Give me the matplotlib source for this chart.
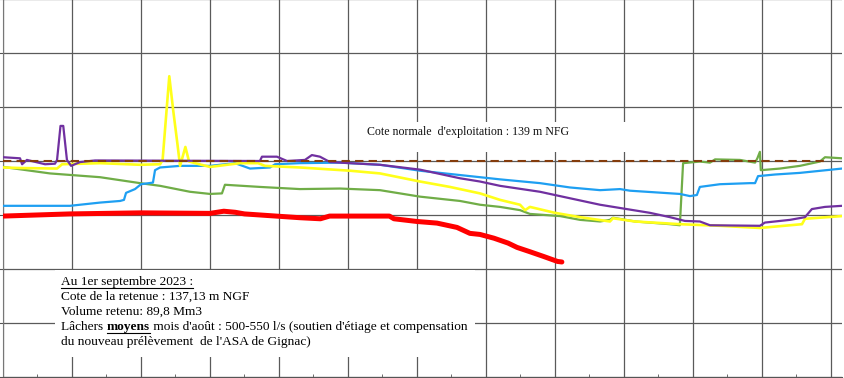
import matplotlib
matplotlib.use("Agg")
import matplotlib.pyplot as plt
from matplotlib.patches import Rectangle
from matplotlib.lines import Line2D

W, H = 844, 378

# ---------------- data (day of year, level m NGF) ----------------
red_days = [0, 29, 60, 90, 96, 101, 105, 129, 138, 142, 168, 170, 180, 188.7,
            197.4, 203, 207.4, 213.5, 219.6, 223.5, 229.1, 235.2, 241.1, 243]
red_vals = [137.98, 138.02, 138.04, 138.03, 138.07, 138.05, 138.02, 137.95, 137.93,
            137.98, 137.98, 137.93, 137.88, 137.85, 137.77, 137.66, 137.64, 137.57,
            137.48, 137.40, 137.32, 137.23, 137.14, 137.13]

purple_days = [0, 7.4, 8.3, 10.4, 18.3, 22.6, 23.5, 25.0, 26.2, 27.8, 29.6, 33.5, 40,
               111.7, 112.6, 119.1, 123.5, 131.3, 134.3, 137.8, 142.2, 163.9, 181.3,
               198.7, 207.4, 216.1, 233.5, 246.5, 259.6, 272.6, 281.3, 290, 296.5,
               303, 307.4, 329.1, 331.3, 342.2, 348.7, 351.7, 357.4, 364.8]
purple_vals = [139.07, 139.05, 138.94, 139.02, 138.94, 138.95, 139.02, 139.65, 139.65,
               139.02, 138.91, 138.98, 139.01, 139.00, 139.08, 139.08, 139.00, 139.02,
               139.11, 139.08, 138.98, 138.93, 138.84, 138.68, 138.62, 138.54, 138.43,
               138.31, 138.19, 138.10, 138.04, 137.96, 137.89, 137.88, 137.81, 137.80,
               137.86, 137.91, 137.96, 138.11, 138.15, 138.17]

yellow_days = [0, 7.4, 23.5, 25.7, 42.2, 59.6, 68.3, 69.4, 72.3, 74, 75.8, 77, 79.3,
               80.9, 83.5, 90, 103, 110.9, 113.9, 129.1, 150.9, 163.9, 181.3, 194.3,
               207.4, 216.1, 224.8, 227, 229.1, 240, 250.9, 263.9, 265.2, 274.8, 294.3,
               311.7, 329.1, 342.2, 347.4, 348.7, 364.8]
yellow_vals = [138.88, 138.87, 138.86, 138.94, 138.96, 138.93, 138.94, 139.02, 140.57,
               139.94, 139.33, 138.91, 139.26, 138.99, 138.96, 138.89, 138.96, 138.96,
               138.91, 138.88, 138.82, 138.77, 138.62, 138.52, 138.40, 138.28, 138.19,
               138.09, 138.15, 138.04, 137.96, 137.88, 137.94, 137.88, 137.83, 137.80,
               137.76, 137.81, 137.83, 137.93, 137.98]

blue_days = [0, 11.7, 29.1, 42.2, 50.9, 52.6, 53.5, 57.4, 60, 65.2, 66.1, 68.3, 77, 90,
             100.9, 107.4, 116.1, 118.3, 129.1, 146.5, 163.9, 181.3, 198.7, 216.1,
             233.5, 246.5, 259.6, 268.3, 272.6, 294.3, 298.7, 301.7, 303, 311.7, 324.8,
             327, 328.3, 335.7, 346.5, 364.8]
blue_vals = [138.17, 138.17, 138.17, 138.23, 138.26, 138.28, 138.41, 138.48, 138.57,
             138.60, 138.83, 138.88, 138.91, 138.91, 138.96, 138.86, 138.88, 138.94,
             138.96, 138.97, 138.93, 138.82, 138.74, 138.66, 138.59, 138.51, 138.46,
             138.48, 138.45, 138.39, 138.35, 138.37, 138.52, 138.57, 138.59, 138.59,
             138.72, 138.75, 138.78, 138.86]

green_days = [0, 20.4, 42.2, 59.6, 68.3, 81.3, 90, 95.2, 96.5, 111.7, 129.1, 146.5,
              163.9, 181.3, 198.7, 207.4, 216.1, 224.8, 229.1, 242.2, 250.9, 259.6,
              263.9, 265.2, 274.8, 290, 294.3, 295.7, 303, 307.4, 309.6, 320.4, 327,
              328, 329.1, 329.5, 337.8, 346.5, 355.2, 357.4, 364.8]
green_vals = [138.89, 138.77, 138.70, 138.59, 138.54, 138.43, 138.39, 138.40, 138.56,
              138.52, 138.48, 138.49, 138.46, 138.34, 138.26, 138.19, 138.15, 138.09,
              138.02, 137.98, 137.91, 137.88, 137.91, 137.95, 137.88, 137.83, 137.81,
              138.96, 138.99, 138.97, 139.03, 139.02, 138.97, 139.05, 139.17, 138.83,
              138.86, 138.91, 138.99, 139.07, 139.05]

ref_days = [0, 358]
ref_vals = [139, 139]

x_ticks = list(range(0, 361, 30))
x_minor = list(range(15, 361, 30))
y_ticks = [135, 136, 137, 138, 139, 140, 141, 142]

note_ref = "Cote normale  d'exploitation : 139 m NFG"
note_title = "Au 1er septembre 2023 :"
note_l2 = "Cote de la retenue : 137,13 m NGF"
note_l3 = "Volume retenu: 89,8 Mm3"
note_l4a = "Lâchers "
note_l4b = "moyens"
note_l4c = " mois d'août : 500-550 l/s (soutien d'étiage et compensation"
note_l5 = "du nouveau prélèvement  de l'ASA de Gignac)"

# ---------------- figure ----------------
fig = plt.figure(figsize=(W / 100, H / 100), dpi=100)
fig.patch.set_facecolor("white")

def fx(px):
    return px / W

def fy(py):
    return 1 - py / H

ax = fig.add_axes([fx(3), fy(377), fx(842) - fx(3), fy(-1) - fy(377)])
ax.set_xticks(x_ticks)
ax.set_xticks(x_minor, minor=True)
ax.set_yticks(y_ticks)
ax.set_xticklabels([])
ax.set_yticklabels([])
ax.grid(True, which="major", color="#5a5a5a", linewidth=0.9)
ax.tick_params(axis="x", which="major", length=0)
ax.tick_params(axis="x", which="minor", direction="inout", length=5, color="#555555")
ax.tick_params(axis="y", which="major", direction="out", length=4, color="#555555")
for s in ["top", "right"]:
    ax.spines[s].set_visible(False)
ax.spines["left"].set_color("#777777")
ax.spines["bottom"].set_color("#555555")

ax.plot(green_days, green_vals, color="#70AD47", lw=1.6, zorder=3)
ax.plot(blue_days, blue_vals, color="#1E9FF2", lw=1.6, zorder=3)
ax.plot(yellow_days, yellow_vals, color="#FFFF1A", lw=1.9, zorder=4)
ax.plot(purple_days, purple_vals, color="#7030A0", lw=1.6, zorder=5)
ax.plot(ref_days, ref_vals, color="#843C0C", lw=1.5, dashes=[4, 2.5], zorder=6)
ax.plot(red_days, red_vals, color="#FF0000", lw=3.6, zorder=7, solid_capstyle="round")
ax.set_xlim(0, 364.8)
ax.set_ylim(135, 142)

# white boxes for annotations
fig.patches.append(Rectangle((fx(350), fy(152)), fx(630) - fx(350), fy(122) - fy(152),
                             transform=fig.transFigure, facecolor="white",
                             edgecolor="none", zorder=2, figure=fig))
fig.patches.append(Rectangle((fx(55), fy(357)), fx(475) - fx(55), fy(270) - fy(357),
                             transform=fig.transFigure, facecolor="white",
                             edgecolor="none", zorder=2, figure=fig))

serif = ["Liberation Serif", "DejaVu Serif"]
fs = 9.6
fig.text(fx(367), fy(132), note_ref, family=serif, fontsize=8.6,
         va="center", ha="left", color="#111111")

x0 = fx(61)
lines_y = [282, 297, 312, 327, 342]
t1 = fig.text(x0, fy(lines_y[0]), note_title, family=serif, fontsize=fs, va="center")
fig.text(x0, fy(lines_y[1]), note_l2, family=serif, fontsize=fs, va="center")
fig.text(x0, fy(lines_y[2]), note_l3, family=serif, fontsize=fs, va="center")
ta = fig.text(x0, fy(lines_y[3]), note_l4a, family=serif, fontsize=fs, va="center")
fig.text(x0, fy(lines_y[4]), note_l5, family=serif, fontsize=fs, va="center")

fig.canvas.draw()
r = fig.canvas.get_renderer()
inv = fig.transFigure.inverted()

def underline(t, ycenter_px, dy=5.5):
    bb = t.get_window_extent(r)
    (xa, _), (xb, _) = inv.transform([[bb.x0, bb.y0], [bb.x1, bb.y1]])
    yl = fy(ycenter_px + dy)
    fig.add_artist(Line2D([xa, xb], [yl, yl], transform=fig.transFigure,
                          color="black", lw=0.8, zorder=6))

underline(t1, lines_y[0])
bb = ta.get_window_extent(r)
xb_ = inv.transform([[bb.x1, 0]])[0][0]
tb = fig.text(xb_, fy(lines_y[3]), note_l4b, family=serif, fontsize=fs,
              fontweight="bold", va="center")
fig.canvas.draw()
bb2 = tb.get_window_extent(r)
underline(tb, lines_y[3])
xc_ = inv.transform([[bb2.x1, 0]])[0][0]
fig.text(xc_, fy(lines_y[3]), note_l4c, family=serif, fontsize=fs, va="center")

fig.savefig("out.png", dpi=100, facecolor="white")
